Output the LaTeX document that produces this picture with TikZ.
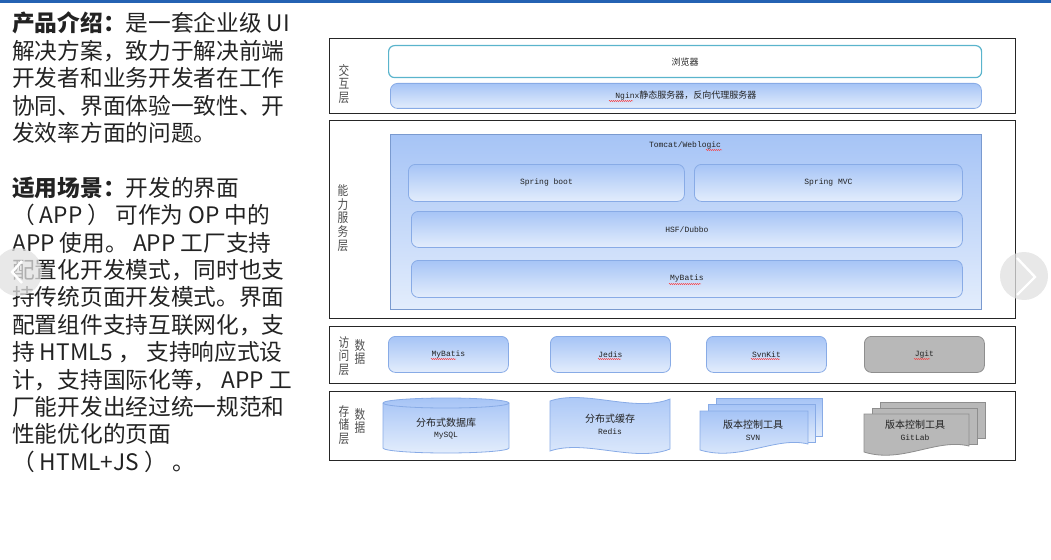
\documentclass[tikz,border=0pt]{standalone}
\usepackage{fontspec}
\setmainfont{Noto Sans CJK SC}
\newfontfamily\cjkfont{Noto Sans CJK SC}
\newfontfamily\vlabfont{Noto Sans CJK SC}[FakeStretch=0.82]
\newfontfamily\monofont{Liberation Mono}
\usetikzlibrary{decorations.pathmorphing}
\definecolor{topbar}{HTML}{2462B3}
\definecolor{gtop}{HTML}{A6C4F6}
\definecolor{gbot}{HTML}{E3EDFC}
\definecolor{gedge}{HTML}{88ABE6}
\definecolor{teal}{HTML}{5AB4CC}
\definecolor{grayfill}{HTML}{B8B8B8}
\definecolor{grayedge}{HTML}{8E8E8E}
\definecolor{txt}{HTML}{222222}
\tikzset{
  frame/.style={draw=black!85, line width=1.3pt, anchor=north west, inner sep=0pt},
  gbox/.style={draw=gedge, line width=0.8pt, top color=gtop, bottom color=gbot, rounded corners=7pt, anchor=north west, inner sep=0pt},
  grbox/.style={draw=grayedge, line width=0.8pt, fill=grayfill, rounded corners=7pt, anchor=north west, inner sep=0pt},
  gshape/.style={draw=gedge, line width=0.8pt, top color=gtop, bottom color=gbot},
  grshape/.style={draw=grayedge, line width=0.8pt, fill=grayfill},
  monotxt/.style={font=\monofont\fontsize{8}{9}\selectfont, text=txt},
  cjktxt/.style={font=\cjkfont\fontsize{9}{10}\selectfont, text=txt},
  vlabel/.style={font=\vlabfont\fontsize{13}{13.8}\selectfont, text=black!70, align=center, inner sep=0pt},
  squig/.style={draw=red!80, line width=0.4pt, decorate, decoration={snake, amplitude=0.6pt, segment length=2pt}},
  navcirc/.style={fill=black!12, fill opacity=0.75},
  chev/.style={draw=white, line width=2.4pt}
}
\begin{document}
\begin{tikzpicture}[x=1pt,y=-1pt]
\useasboundingbox (0,0) rectangle (1051,559);
\fill[topbar] (0,0) rectangle (1051,3);

% left description
\node[anchor=north west, align=left, inner sep=0pt, text=txt,
      font=\fontsize{22.7}{27.4}\selectfont] (desc) at (12,12) {%
\textbf{产品介绍：}是一套企业级 UI\\
解决方案，致力于解决前端\\
开发者和业务开发者在工作\\
协同、界面体验一致性、开\\
发效率方面的问题。\\
\mbox{}\\
\textbf{适用场景：}开发的界面\\
（ APP ） 可作为 OP 中的\\
APP 使用。 APP 工厂支持\\
配置化开发模式，同时也支\\
持传统页面开发模式。界面\\
配置组件支持互联网化，支\\
持 HTML5 ， 支持响应式设\\
计，支持国际化等， APP 工\\
厂能开发出经过统一规范和\\
性能优化的页面\\
（ HTML+JS ） 。};

% frames
\node[frame, minimum width=686, minimum height=75] (f1) at (329,38) {};
\node[frame, minimum width=686, minimum height=198] (f2) at (329,120) {};
\node[frame, minimum width=686, minimum height=57] (f3) at (329,326) {};
\node[frame, minimum width=686, minimum height=69] (f4) at (329,391) {};

% layer labels
\node[vlabel] (l1) at (344,84) {交\\互\\层};
\node[vlabel] (l2) at (343,218) {能\\力\\服\\务\\层};
\node[vlabel] (l3a) at (344,356) {访\\问\\层};
\node[vlabel] (l3b) at (360,352) {数\\据};
\node[vlabel] (l4a) at (344,425) {存\\储\\层};
\node[vlabel] (l4b) at (360,421) {数\\据};

% interaction layer
\node[draw=teal, line width=1.2pt, fill=white, rounded corners=6pt, anchor=north west,
      inner sep=0pt, minimum width=593, minimum height=32] (browser) at (388,45) {};
\node[cjktxt] at (browser.center) {浏览器};
\node[gbox, minimum width=591, minimum height=25] (nginx) at (390,83) {};
\node[cjktxt] (nginxt) at (nginx.center) {{\monofont\fontsize{8}{9}\selectfont Nginx}静态服务器，反向代理服务器};

% service layer
\node[gbox, rounded corners=0pt, draw=gedge!90!black, minimum width=591, minimum height=175] (tomcat) at (390,134) {};
\node[monotxt] (tomcatt) at (685,145) {Tomcat/Weblogic};
\node[gbox, minimum width=276, minimum height=37] (sboot) at (408,164) {};
\node[monotxt] at (sboot.center) {Spring boot};
\node[gbox, minimum width=268, minimum height=37] (smvc) at (694,164) {};
\node[monotxt] at (smvc.center) {Spring MVC};
\node[gbox, minimum width=551, minimum height=36] (hsf) at (411,211) {};
\node[monotxt] at (hsf.center) {HSF/Dubbo};
\node[gbox, minimum width=551, minimum height=37] (mb1) at (411,260) {};
\node[monotxt] (mb1t) at (mb1.center) {MyBatis};

% data access layer
\node[gbox, minimum width=120, minimum height=36] (mb2) at (388,336) {};
\node[monotxt] (mb2t) at (mb2.center) {MyBatis};
\node[gbox, minimum width=120, minimum height=36] (jedis) at (550,336) {};
\node[monotxt] (jedist) at (jedis.center) {Jedis};
\node[gbox, minimum width=120, minimum height=36] (svnkit) at (706,336) {};
\node[monotxt] (svnkitt) at (svnkit.center) {SvnKit};
\node[grbox, minimum width=120, minimum height=36] (jgit) at (864,336) {};
\node[monotxt] (jgitt) at (jgit.center) {Jgit};

% storage layer: cylinder
\path[gshape] (383,403) -- (383,448) arc[start angle=180, end angle=360, x radius=63pt, y radius=5pt]
  -- (509,403) arc[start angle=0, end angle=180, x radius=63pt, y radius=5pt] -- cycle;
\draw[draw=gedge, line width=0.8pt] (383,403) arc[start angle=180, end angle=360, x radius=63pt, y radius=5pt];
\node[cjktxt, font=\cjkfont\fontsize{10}{11}\selectfont] (mysql) at (446,423) {分布式数据库};
\node[monotxt] (mysqlt) at (446,436) {MySQL};

% tape
\path[gshape] (550,401) .. controls (585,389) and (635,413) .. (670,399)
  -- (670,449) .. controls (635,463) and (585,439) .. (550,451) -- cycle;
\node[cjktxt, font=\cjkfont\fontsize{10}{11}\selectfont] (redis) at (610,419) {分布式缓存};
\node[monotxt] (redist) at (610,432) {Redis};

% multi document SVN
\path[gshape] (716,398) rectangle (822,436);
\path[gshape] (708,404) rectangle (815,442);
\path[gshape] (700,411) -- (808,411) -- (808,444) .. controls (775,436) and (740,462) .. (700,450) -- cycle;
\node[cjktxt, font=\cjkfont\fontsize{10}{11}\selectfont] (svn) at (753,425) {版本控制工具};
\node[monotxt] (svnt) at (753,438) {SVN};

% multi document GitLab
\path[grshape] (880,402) rectangle (985,438);
\path[grshape] (872,408) rectangle (977,444);
\path[grshape] (864,414) -- (969,414) -- (969,446) .. controls (936,438) and (902,464) .. (864,452) -- cycle;
\node[cjktxt, font=\cjkfont\fontsize{10}{11}\selectfont] (gitlab) at (915,425) {版本控制工具};
\node[monotxt] (gitlabt) at (915,438) {GitLab};

% spell-check squiggles
\draw[squig] (609,101) -- (633,101);
\draw[squig] (706,150) -- (722,150);
\draw[squig] (669,284) -- (701,284);
\draw[squig] (431,359) -- (456,359);
\draw[squig] (598,359) -- (621,359);
\draw[squig] (751,359) -- (780,359);
\draw[squig] (914,359) -- (930,359);

% navigation arrows
\fill[navcirc] (18,272) circle[radius=24pt];
\draw[chev] (22,261) -- (12,272) -- (22,283);
\fill[navcirc] (1024,276) circle[radius=24pt];
\draw[chev] (1017,258) -- (1035,277) -- (1017,295);
\end{tikzpicture}
\end{document}
